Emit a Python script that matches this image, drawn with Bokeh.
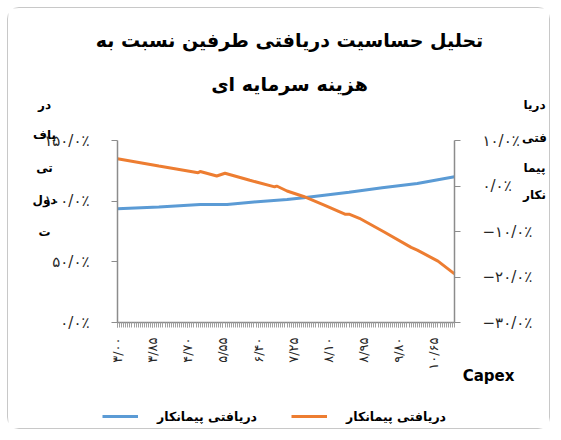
import numpy as np
from bokeh.plotting import figure
from bokeh.models import Range1d, LinearAxis, FixedTicker, Legend, LegendItem, Label
from bokeh.embed import file_html
from bokeh.resources import INLINE

# ---------------- data ----------------
title_line1 = "تحلیل حساسیت دریافتی طرفین نسبت به"
title_line2 = "هزینه سرمایه ای"
x_title = "Capex"
left_title_parts = ["در", "یاف", "تی", "دول", "ت"]
right_title_parts = ["دریا", "فتی", "پیما", "نکار"]
legend_labels = ["دریافتی پیمانکار", "دریافتی پیمانکار"]

capex_ticks = [3.00, 3.85, 4.70, 5.55, 6.40, 7.25, 8.10, 8.95, 9.80, 10.65]
capex_tick_labels = ["۳/۰۰", "۳/۸۵", "۴/۷۰", "۵/۵۵", "۶/۴۰", "۷/۲۵", "۸/۱۰", "۸/۹۵", "۹/۸۰", "۱۰/۶۵"]
capex_first, capex_last, capex_step = 3.00, 11.15, 0.05

left_ticks = [0, 50, 100, 150]
left_tick_labels = ["۰/۰٪", "۵۰/۰٪", "۱۰۰/۰٪", "۱۵۰/۰٪"]
right_ticks = [-30, -20, -10, 0, 10]
right_tick_labels = ["−۳۰/۰٪", "−۲۰/۰٪", "−۱۰/۰٪", "۰/۰٪", "۱۰/۰٪"]

# government receipt (left axis, %)
capex_gov = [3.00, 4.00, 5.00, 5.65, 6.30, 7.10, 7.50, 8.60, 9.40, 10.25, 11.15]
gov_pct = [93.7, 95.2, 97.3, 97.3, 99.3, 101.4, 102.8, 107.4, 111.0, 114.6, 120.1]

# contractor receipt (right axis, %)
capex_con = [3.00, 4.00, 4.95, 5.00, 5.40, 5.60, 6.20, 6.80, 6.85, 7.10, 7.50,
             8.00, 8.50, 8.60, 8.85, 9.45, 10.10, 10.25, 10.75, 11.15]
con_pct = [6.0, 4.4, 2.9, 3.2, 2.2, 2.8, 1.25, -0.2, 0.0, -1.1, -2.3,
           -4.2, -6.2, -6.2, -7.1, -10.1, -13.5, -14.1, -16.5, -19.3]

BLUE = "#5b9bd5"
ORANGE = "#ed7d31"
AXIS = "#8c8c8c"
FONT = "DejaVu Sans"

# ---------------- layout (page pixels) ----------------
W, H = 543, 422
OX, OY = 9, 9                 # canvas origin on the page (7px margin + 1px border)
L, R, T, B = 118, 455, 141, 323   # plot area on the page

left_lo, left_hi = 0.0, 150.0
right_lo, right_hi = -30.0, 10.0
kx = (capex_last - capex_first) / (R - L)
kl = (left_hi - left_lo) / (B - T)
kr = (right_hi - right_lo) / (B - T)

# the frame covers the whole canvas; axes sit at fixed data locations inside it
x_range = Range1d(capex_first - (L - OX) * kx, capex_last + (OX + W - R) * kx)
y_range = Range1d(left_lo - (OY + H - B) * kl, left_hi + (T - OY) * kl)
y_right = Range1d(right_lo - (OY + H - B) * kr, right_hi + (T - OY) * kr)


def px_x(px):
    return capex_first + (px - L) * kx


def px_y(py):
    return left_lo + (B - py) * kl


p = figure(width=W, height=H, output_backend="svg", toolbar_location=None,
           x_range=x_range, y_range=y_range,
           min_border=0, min_border_left=0, min_border_right=0,
           min_border_top=0, min_border_bottom=0,
           styles={"margin-left": "7px", "margin-top": "7px",
                   "border": "1px solid #c8c8c8", "border-radius": "12px"})
p.outline_line_color = None
p.xgrid.visible = False
p.ygrid.visible = False
p.background_fill_color = "white"
p.border_fill_color = "white"
p.extra_y_ranges = {"right": y_right}

# x axis
xa = p.xaxis[0]
minor = list(np.round(np.arange(capex_first, capex_last + 1e-9, capex_step), 2))
xa.ticker = FixedTicker(ticks=capex_ticks, minor_ticks=minor)
xa.major_label_overrides = {t: s for t, s in zip(capex_ticks, capex_tick_labels)}
xa.major_label_orientation = np.pi / 2
xa.fixed_location = left_lo
xa.bounds = (capex_first, capex_last)
xa.axis_line_color = AXIS
xa.axis_line_width = 1.5
xa.major_tick_line_color = "#a0a0a0"
xa.minor_tick_line_color = "#a0a0a0"
xa.major_tick_out = 5
xa.major_tick_in = 0
xa.minor_tick_out = 5
xa.minor_tick_in = 0
xa.major_label_standoff = 10
xa.major_label_text_font = FONT
xa.major_label_text_font_size = "13px"
xa.major_label_text_color = "#262626"

# left axis
ya = p.yaxis[0]
ya.ticker = FixedTicker(ticks=left_ticks)
ya.major_label_overrides = {t: s for t, s in zip(left_ticks, left_tick_labels)}
ya.fixed_location = capex_first
ya.bounds = (left_lo, left_hi)

# right axis
ra = LinearAxis(y_range_name="right", bounds=(right_lo, right_hi), fixed_location=capex_last)
ra.ticker = FixedTicker(ticks=right_ticks)
ra.major_label_overrides = {t: s for t, s in zip(right_ticks, right_tick_labels)}
p.add_layout(ra, "right")

for ax in (ya, ra):
    ax.axis_line_color = AXIS
    ax.axis_line_width = 1.5
    ax.major_tick_line_color = AXIS
    ax.major_tick_out = 6
    ax.major_tick_in = 0
    ax.minor_tick_line_color = None
    ax.major_label_standoff = 22
    ax.major_label_text_font = FONT
    ax.major_label_text_font_size = "15px"
    ax.major_label_text_color = "#262626"

# lines
r_gov = p.line(capex_gov, gov_pct, line_color=BLUE, line_width=3)
r_con = p.line(capex_con, con_pct, line_color=ORANGE, line_width=3, y_range_name="right")


def label(txt, px, py, size, bold=True, align="center"):
    p.add_layout(Label(x=px_x(px), y=px_y(py), text=txt, text_align=align,
                       text_baseline="middle", text_font=FONT,
                       text_font_style="bold" if bold else "normal",
                       text_font_size=size, text_color="black"))


# title
label(title_line1, 290, 40, "19px")
label(title_line2, 290, 84, "19px")
# x axis title
label(x_title, 489, 376, "15px")
# wrapped axis titles
for txt, py in zip(left_title_parts, [105, 135, 168, 200, 232]):
    label(txt, 45, py, "12px")
for txt, py in zip(right_title_parts, [105, 138, 168, 195]):
    label(txt, 535, py, "12px")

# legend
legend = Legend(items=[LegendItem(label=legend_labels[0], renderers=[r_gov]),
                       LegendItem(label=legend_labels[1], renderers=[r_con])],
                orientation="horizontal", location=(103 - OX, (OY + H) - 425),
                border_line_color=None, background_fill_alpha=0,
                padding=0, margin=0, spacing=34, label_standoff=19,
                glyph_width=36, glyph_height=16, label_height=16,
                label_text_font=FONT, label_text_font_style="bold",
                label_text_font_size="12.5px", label_text_color="black")
p.add_layout(legend, "center")

open("out.html", "w").write(file_html(p, INLINE))
